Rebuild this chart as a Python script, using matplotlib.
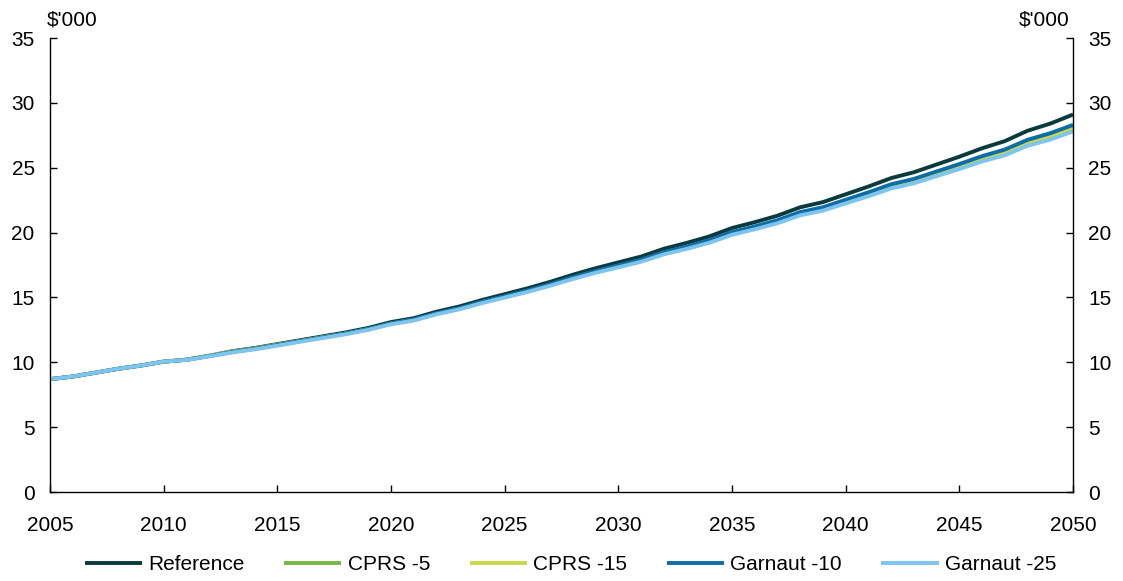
import matplotlib
matplotlib.use("Agg")
import matplotlib.pyplot as plt

plt.rcParams['font.family'] = ['Liberation Sans', 'DejaVu Sans']

years = list(range(2005, 2051))

reference = [8.7, 8.9, 9.2, 9.5, 9.75, 10.05, 10.2, 10.5, 10.85, 11.1,
             11.4, 11.7, 12.0, 12.3, 12.65, 13.1, 13.4, 13.9, 14.3, 14.8,
             15.25, 15.7, 16.2, 16.75, 17.25, 17.7, 18.15, 18.75, 19.2, 19.7,
             20.35, 20.8, 21.3, 21.95, 22.35, 22.95, 23.55, 24.2, 24.65, 25.25,
             25.85, 26.5, 27.05, 27.85, 28.4, 29.1]

cprs_5 = [8.7, 8.9, 9.2, 9.5, 9.75, 10.05, 10.2, 10.5, 10.82, 11.06,
          11.35, 11.64, 11.93, 12.22, 12.56, 12.99, 13.28, 13.76, 14.15, 14.64,
          15.07, 15.51, 15.99, 16.53, 17.01, 17.44, 17.88, 18.46, 18.89, 19.37,
          20.0, 20.43, 20.91, 21.53, 21.9, 22.47, 23.04, 23.66, 24.07, 24.64,
          25.2, 25.81, 26.31, 27.06, 27.56, 28.22]

cprs_15 = [8.7, 8.9, 9.2, 9.5, 9.75, 10.05, 10.2, 10.5, 10.81, 11.05,
           11.34, 11.63, 11.92, 12.21, 12.54, 12.97, 13.25, 13.73, 14.11, 14.6,
           15.03, 15.46, 15.94, 16.47, 16.95, 17.38, 17.81, 18.38, 18.81, 19.28,
           19.91, 20.33, 20.81, 21.42, 21.79, 22.35, 22.91, 23.52, 23.93, 24.48,
           25.04, 25.63, 26.12, 26.86, 27.35, 28.0]

garnaut_10 = [8.7, 8.9, 9.2, 9.5, 9.75, 10.05, 10.19, 10.48, 10.79, 11.04,
              11.33, 11.63, 11.92, 12.22, 12.56, 13.0, 13.29, 13.78, 14.17, 14.66,
              15.09, 15.53, 16.02, 16.55, 17.04, 17.47, 17.91, 18.49, 18.92, 19.41,
              20.04, 20.47, 20.95, 21.58, 21.95, 22.53, 23.1, 23.72, 24.14, 24.71,
              25.28, 25.89, 26.4, 27.15, 27.66, 28.3]

garnaut_25 = [8.7, 8.9, 9.2, 9.5, 9.75, 10.05, 10.18, 10.46, 10.75, 11.0,
              11.28, 11.58, 11.87, 12.16, 12.5, 12.93, 13.22, 13.7, 14.08, 14.56,
              14.99, 15.42, 15.9, 16.42, 16.9, 17.32, 17.75, 18.32, 18.74, 19.21,
              19.83, 20.25, 20.72, 21.33, 21.69, 22.25, 22.8, 23.4, 23.8, 24.35,
              24.9, 25.48, 25.96, 26.69, 27.17, 27.8]

labels = ['Reference', 'CPRS -5', 'CPRS -15', 'Garnaut -10', 'Garnaut -25']
colors = ['#0B3A3E', '#7AB648', '#C8D84A', '#0E6DA6', '#7DC4EE']
series = [reference, cprs_5, cprs_15, garnaut_10, garnaut_25]

fig = plt.figure(figsize=(11.23, 5.81), dpi=100)
ax = fig.add_axes([50/1123, 1-492/581, (1073-50)/1123, (492-38)/581])

for s, lab, c in zip(series, labels, colors):
    ax.plot(years, s, color=c, lw=2.8, label=lab, solid_capstyle='butt')

ax.set_xlim(2005, 2050)
ax.set_ylim(0, 35)
ax.set_xticks(range(2005, 2051, 5))
ax.set_yticks(range(0, 36, 5))
ax.tick_params(axis='both', direction='in', length=5, width=1, labelsize=15, colors='black')
ax.tick_params(axis='x', pad=17)
ax.tick_params(axis='y', pad=11, right=True, labelright=True)
ax.spines['top'].set_visible(False)
for sp in ['left', 'right', 'bottom']:
    ax.spines[sp].set_linewidth(1)

fig.text(47/1123, 1-20/581, "$'000", fontsize=15, ha='left', va='center')
fig.text(1070/1123, 1-20/581, "$'000", fontsize=15, ha='right', va='center')

fig.legend(loc='center', bbox_to_anchor=(0.5 + 9/1123, 1-565/581), ncol=5, frameon=False,
           fontsize=15, handlelength=2.75, columnspacing=1.9, handletextpad=0.3)

fig.savefig('out.png', dpi=100)
